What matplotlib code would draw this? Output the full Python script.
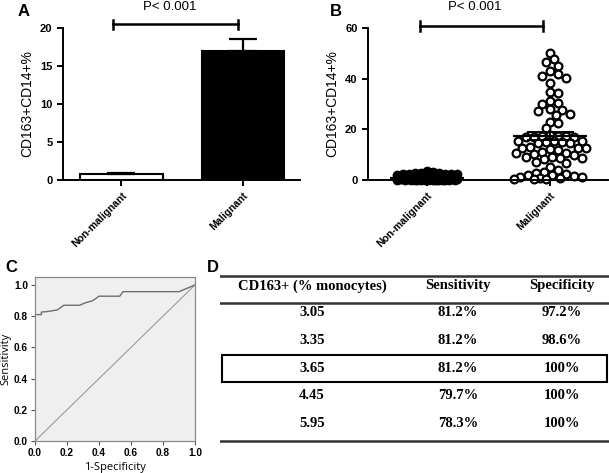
import numpy as np
import matplotlib
matplotlib.use("Agg")
import matplotlib.pyplot as plt
from matplotlib.patches import Rectangle

# Panel A / B data
groups = ["Non-malignant", "Malignant"]
bar_means = [0.8, 17.0]
bar_sem = [0.12, 1.6]
p_text = "P< 0.001"

non_malignant = [3.5, 3.2, 2.8, 2.7, 2.6, 2.5, 2.5, 2.4, 2.3, 2.2,
                 1.9, 1.8, 1.7, 1.6, 1.5, 1.4, 1.3, 1.3, 1.2, 1.1,
                 1.0, 0.9, 0.9, 0.8, 0.8, 0.8, 0.7, 0.7, 0.7, 0.6,
                 0.6, 0.6, 0.6, 0.5, 0.5, 0.5, 0.5, 0.5, 0.4, 0.4,
                 0.4, 0.4, 0.4, 0.3, 0.3, 0.3, 0.3, 0.3, 0.3, 0.2,
                 0.2, 0.2, 0.2, 0.2, 0.2, 0.2, 0.1, 0.1, 0.1, 0.1,
                 0.1, 0.1, 0.1, 0.1, 0.0, 0.0, 0.0, 0.0, 0.0, 0.0,
                 0.0, 0.0]
malignant = [50.2, 47.6, 46.4, 45.0, 43.0, 41.8, 41.2, 40.4, 38.4, 34.6,
             34.2, 31.2, 30.3, 29.9, 27.9, 27.6, 27.2, 26.0, 25.7, 23.0,
             22.6, 20.4,
             17.6, 17.5, 17.3, 17.2, 17.1, 17.0, 16.8, 15.5, 15.3, 15.2,
             15.0, 14.9, 14.8, 14.6, 13.0, 12.8, 12.6, 12.5, 12.2, 12.0,
             11.0, 10.8, 10.5, 10.2, 10.0, 9.2, 9.0, 8.8, 8.5, 8.2,
             7.2, 6.7,
             5.2, 4.0, 3.0, 2.6, 2.3, 2.0, 1.8, 1.5, 1.2, 1.0,
             0.9, 0.7, 0.5, 0.4, 0.2]

# Panel C data
roc_fpr = [0.0, 0.04, 0.04, 0.08, 0.14, 0.18, 0.28, 0.31, 0.36, 0.40, 0.53, 0.55, 0.90, 1.0]
roc_tpr = [0.81, 0.81, 0.826, 0.83, 0.84, 0.87, 0.87, 0.884, 0.899, 0.928, 0.928, 0.957, 0.957, 1.0]

# Panel D data
table_header = ["CD163+ (% monocytes)", "Sensitivity", "Specificity"]
cutoffs = ["3.05", "3.35", "3.65", "4.45", "5.95"]
sensitivity = ["81.2%", "81.2%", "81.2%", "79.7%", "78.3%"]
specificity = ["97.2%", "98.6%", "100%", "100%", "100%"]
best_row = 2

W, H = 609, 473
fig = plt.figure(figsize=(W / 100, H / 100), dpi=100)
sans = "Liberation Sans"


def px_axes(left, top, right, bottom):
    return fig.add_axes([left / W, 1 - bottom / H, (right - left) / W, (bottom - top) / H])


def swarm(values, px_per_val, d, step, half_width):
    # beeswarm limited to +-half_width px; overlaps allowed when crowded
    vals = np.asarray(values)
    order = np.argsort(-vals)
    placed = []
    xs = np.zeros(len(vals))
    cands = [0.0]
    k = 1
    while k * step <= half_width:
        cands += [k * step, -k * step]
        k += 1
    for i in order:
        y = vals[i] * px_per_val
        best, best_gap = 0.0, -1
        for c in cands:
            gap = min([np.hypot(c - px, y - py) for px, py in placed] or [1e9])
            if gap >= d:
                best = c
                break
            if gap > best_gap:
                best, best_gap = c, gap
        placed.append((best, y))
        xs[i] = best
    return xs


def style_ab(ax, ymax, yticks):
    for s in ["top", "right"]:
        ax.spines[s].set_visible(False)
    for s in ["left", "bottom"]:
        ax.spines[s].set_linewidth(1.4)
    ax.set_ylim(0, ymax)
    ax.set_xlim(-0.48, 1.47)
    ax.set_yticks(yticks)
    ax.set_xticks([0, 1])
    ax.set_xticklabels(groups, rotation=45, ha="right", rotation_mode="anchor",
                       fontsize=7.5, fontweight="bold", family=sans)
    for t in ax.get_yticklabels():
        t.set_fontsize(8)
        t.set_fontweight("bold")
        t.set_family(sans)
    ax.tick_params(width=1.4, length=4)
    ax.set_ylabel("CD163+CD14+%", fontsize=10, family=sans, labelpad=4)


def sig(ax, y, ytext, x0, x1, cap):
    ax.plot([x0, x1], [y, y], color="black", lw=1.8, clip_on=False)
    ax.plot([x0, x0], [y - cap, y + cap], color="black", lw=1.8, clip_on=False)
    ax.plot([x1, x1], [y - cap, y + cap], color="black", lw=1.8, clip_on=False)
    ax.text((x0 + x1) / 2 - 0.05, ytext, p_text, ha="center", va="center",
            fontsize=9.5, family=sans, clip_on=False)


# ---- A ----
axA = px_axes(63, 28, 300, 180)
axA.bar([0, 1], bar_means, width=0.68, color=["white", "black"], edgecolor="black",
        linewidth=1.5, yerr=[[0, 0], bar_sem],
        error_kw=dict(ecolor="black", elinewidth=1.6, capsize=10, capthick=1.6))
style_ab(axA, 20, [0, 5, 10, 15, 20])
sig(axA, 20.5, 22.7, -0.07, 0.96, 0.6)
fig.text(18 / W, 1 - 11 / H, "A", fontsize=12, fontweight="bold", family=sans, va="center")

# ---- B ----
axB = px_axes(368, 28, 608, 180)
px_unit = 123.0
px_val = 152.0 / 60
xs_n = swarm(non_malignant, px_val, 5.0, 2.0, 30) / px_unit
xs_m = swarm(malignant, px_val, 7.6, 2.0, 37) / px_unit
axB.plot(0 + xs_n, non_malignant, "o", ms=5.8, mfc="black", mec="black", mew=1.2, clip_on=False)
axB.plot(1 + xs_m, malignant, "o", ms=5.6, mfc="white", mec="black", mew=1.6, clip_on=False)
for i, vals in enumerate([non_malignant, malignant]):
    m = np.mean(vals)
    se = np.std(vals, ddof=1) / np.sqrt(len(vals))
    axB.hlines(m, i - 0.3, i + 0.3, color="black", lw=1.6, zorder=5)
    axB.hlines([m - se, m + se], i - 0.19, i + 0.19, color="black", lw=1.4, zorder=5)
    axB.vlines(i, m - se, m + se, color="black", lw=1.4, zorder=5)
style_ab(axB, 60, [0, 20, 40, 60])
sig(axB, 60.8, 68.2, -0.06, 0.94, 1.8)
fig.text(330 / W, 1 - 11 / H, "B", fontsize=12, fontweight="bold", family=sans, va="center")

# ---- C ----
axC = px_axes(35, 277, 195, 441)
axC.set_facecolor("#efefef")
axC.plot([0, 1], [0, 1], color="#9a9a9a", lw=0.8)
axC.plot(roc_fpr, roc_tpr, color="#6e6e6e", lw=1.0)
axC.set_xlim(0, 1)
axC.set_ylim(0, 1.051)
ticks = [0.0, 0.2, 0.4, 0.6, 0.8, 1.0]
axC.set_xticks(ticks)
axC.set_yticks(ticks)
axC.set_xticklabels([f"{t:.1f}" for t in ticks])
axC.set_yticklabels([f"{t:.1f}" for t in ticks])
for t in axC.get_xticklabels() + axC.get_yticklabels():
    t.set_fontsize(7.3)
    t.set_fontweight("bold")
    t.set_family(sans)
for s in axC.spines.values():
    s.set_color("#8a8a8a")
    s.set_linewidth(0.9)
axC.tick_params(color="#555555", length=3, width=0.8, pad=2)
axC.set_xlabel("1-Specificity", fontsize=8, family="Open Sans", labelpad=3)
axC.set_ylabel("Sensitivity", fontsize=8, family="Open Sans", labelpad=2)
fig.text(5 / W, 1 - 268 / H, "C", fontsize=12, fontweight="bold", family=sans, va="center")

# ---- D ----
axD = px_axes(220, 270, 609, 445)
axD.set_xlim(0, 389)
axD.set_ylim(175, 0)
axD.axis("off")
serif = "Liberation Serif"
col_x = [92, 238, 342]
for x, h in zip(col_x, table_header):
    axD.text(x, 16, h, ha="center", va="center", fontsize=10.5, fontweight="bold", family=serif)
for i, row in enumerate(zip(cutoffs, sensitivity, specificity)):
    y = 43 + i * 27.5
    for x, v in zip(col_x, row):
        axD.text(x, y, v, ha="center", va="center", fontsize=10.5, fontweight="bold", family=serif)
for y in [6, 33, 171]:
    axD.plot([0, 389], [y, y], color="#333333", lw=1.8)
yb = 43 + best_row * 27.5
axD.add_patch(Rectangle((2, yb - 13.5), 385, 27, fill=False, ec="black", lw=1.5))
fig.text(207 / W, 1 - 268 / H, "D", fontsize=12, fontweight="bold", family=sans, va="center")

fig.savefig("out.png", dpi=100)
